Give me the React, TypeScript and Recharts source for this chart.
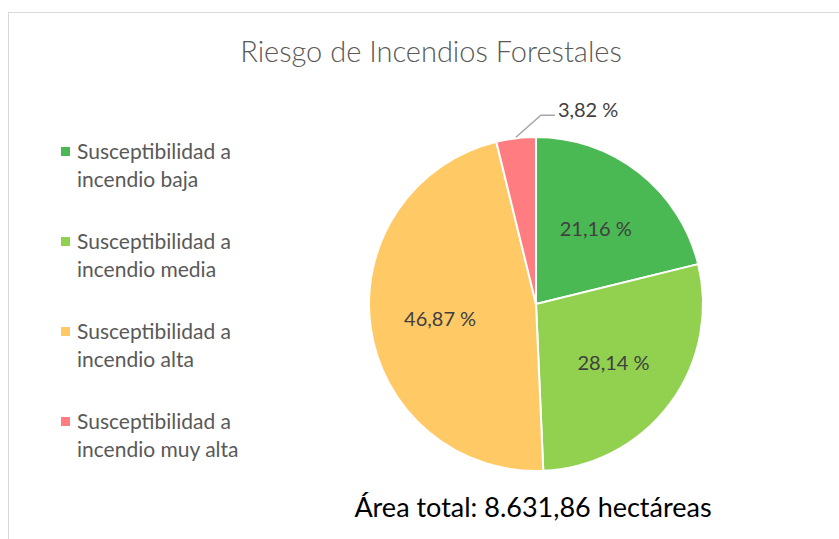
import React from 'react';
import { PieChart, Pie, Cell } from 'recharts';

const categories = [
  'Susceptibilidad a incendio baja',
  'Susceptibilidad a incendio media',
  'Susceptibilidad a incendio alta',
  'Susceptibilidad a incendio muy alta',
];
const percentages = [21.16, 28.14, 46.87, 3.82];
const colors = ['#4AB853', '#92D050', '#FFCA66', '#FF7C80'];

const chartTitle = 'Riesgo de Incendios Forestales';
const footer = 'Área total: 8.631,86 hectáreas';

const data = categories.map((name, i) => ({ name, value: percentages[i] }));

const RADIAN = Math.PI / 180;
const fmt = (v: number) => `${v.toFixed(2).replace('.', ',')} %`;
const font = 'Lato, "Open Sans", sans-serif';

const renderLabel = (props: any) => {
  const { cx, cy, midAngle, outerRadius, index } = props;
  const cos = Math.cos(-midAngle * RADIAN);
  const sin = Math.sin(-midAngle * RADIAN);
  if (percentages[index] < 5) {
    // small slice: label outside with an elbow leader line
    const sx = cx + (outerRadius + 1) * cos;
    const sy = cy + (outerRadius + 1) * sin;
    const ex = sx + 25;
    const ey = sy - 22;
    return (
      <g>
        <polyline
          points={`${sx},${sy} ${ex},${ey} ${ex + 14},${ey}`}
          fill="none"
          stroke="#a6a6a6"
          strokeWidth={1.5}
        />
        <text x={ex + 17} y={ey - 6} dominantBaseline="central" fill="#404040" fontSize={20} fontFamily={font}>
          {fmt(percentages[index])}
        </text>
      </g>
    );
  }
  const r = outerRadius * 0.58;
  return (
    <text
      x={cx + r * cos}
      y={cy + r * sin}
      textAnchor="middle"
      dominantBaseline="central"
      fill="#404040"
      fontSize={20}
      fontFamily={font}
    >
      {fmt(percentages[index])}
    </text>
  );
};

export default function App() {
  return (
    <div style={{ position: 'absolute', left: 0, top: 0, width: 839, height: 539, overflow: 'hidden', background: '#fff', fontFamily: font }}>
      <div style={{ position: 'absolute', left: 8, top: 12, width: 900, height: 600, border: '1px solid #d9d9d9' }} />

      <div style={{ position: 'absolute', left: 0, width: 862, top: 33, textAlign: 'center', fontSize: 29, fontWeight: 300, color: '#595959' }}>
        {chartTitle}
      </div>

      <div style={{ position: 'absolute', left: 0, top: 0 }}>
        <PieChart width={839} height={539} margin={{ top: 0, right: 0, bottom: 0, left: 0 }}>
          <Pie
            data={data}
            dataKey="value"
            nameKey="name"
            cx={536}
            cy={304}
            outerRadius={167}
            startAngle={90}
            endAngle={-270}
            stroke="#fff"
            strokeWidth={2}
            label={renderLabel}
            labelLine={false}
            isAnimationActive={false}
          >
            {data.map((d, i) => (
              <Cell key={d.name} fill={colors[i]} />
            ))}
          </Pie>
        </PieChart>
      </div>

      {/* legend, two lines per entry */}
      <div style={{ position: 'absolute', left: 61, top: 137 }}>
        {categories.map((name, i) => {
          const cut = name.indexOf(' a ') + 2;
          return (
            <div key={name} style={{ display: 'flex', alignItems: 'flex-start', height: 90 }}>
              <span style={{ width: 9, height: 9, background: colors[i], marginTop: 10, marginRight: 7, flexShrink: 0 }} />
              <div style={{ fontSize: 21, lineHeight: '28px', color: '#595959' }}>
                <div>{name.slice(0, cut)}</div>
                <div>{name.slice(cut + 1)}</div>
              </div>
            </div>
          );
        })}
      </div>

      <div style={{ position: 'absolute', left: 283, width: 500, top: 490, textAlign: 'center', fontSize: 27, color: '#000' }}>
        {footer}
      </div>
    </div>
  );
}
